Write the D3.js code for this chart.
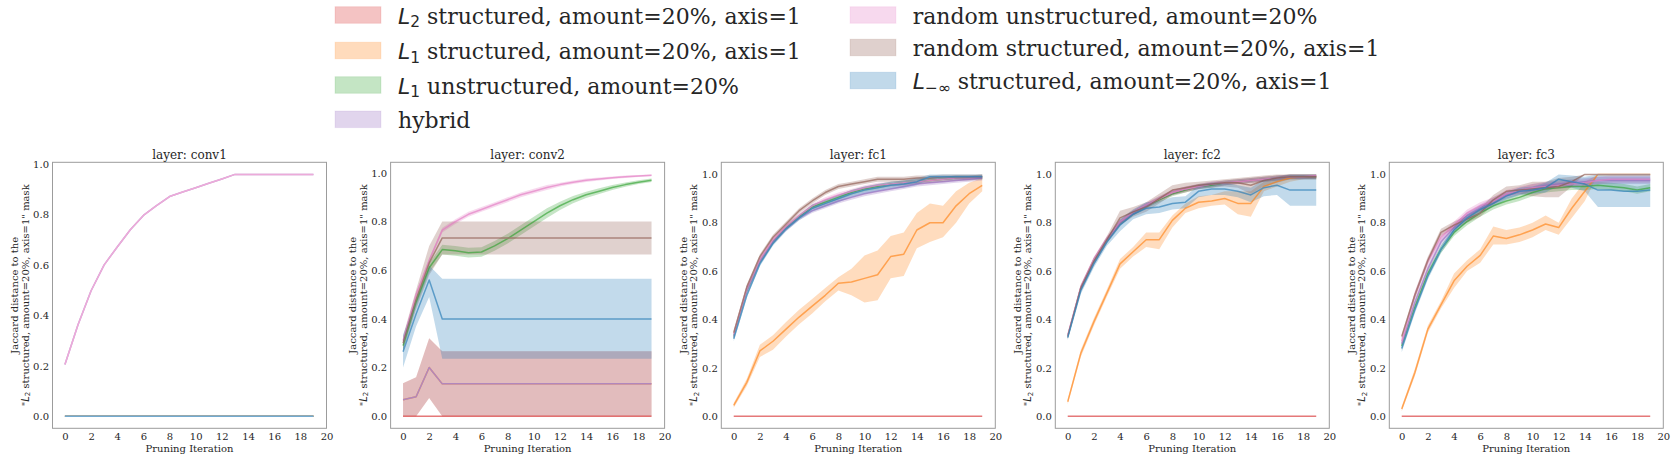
<!DOCTYPE html>
<html><head><meta charset="utf-8">
<script src="https://cdn.jsdelivr.net/npm/d3@7"></script>
<style>body{margin:0;background:#fff;} svg{display:block} text{white-space:pre}</style>
</head><body><svg id="c" width="1678" height="468"></svg>
<script>
// ---------------- DATA ----------------
const iterations = [0,1,2,3,4,5,6,7,8,9,10,11,12,13,14,15,16,17,18,19];
const seriesLabels = [
  "L_2 structured, amount=20%, axis=1",
  "L_1 structured, amount=20%, axis=1",
  "L_1 unstructured, amount=20%",
  "hybrid",
  "random unstructured, amount=20%",
  "random structured, amount=20%, axis=1",
  "L_−∞ structured, amount=20%, axis=1"
];
const seriesColors = ["#d62728","#ff7f0e","#2ca02c","#9467bd","#e377c2","#8c564b","#1f77b4"];
const layerNames = ["conv1","conv2","fc1","fc2","fc3"];
const xTicks = [0,2,4,6,8,10,12,14,16,18,20];
const yTicks = [0,0.2,0.4,0.6,0.8,1.0];
const xLabel = "Pruning Iteration";
const yLabelLines = ["Jaccard distance to the", "\"L_2 structured, amount=20%, axis=1\" mask"];

const Z = [0,0,0,0,0,0,0,0,0,0,0,0,0,0,0,0,0,0,0,0];

// conv1 (series order: L2s, L1s, L1u, hybrid, rand-u, rand-s, Linf-s)
const conv1Mean = [
  Z, Z, Z,
  [0.205,0.363,0.498,0.601,0.672,0.740,0.797,0.836,0.872,0.890,0.907,0.925,0.942,0.960,0.960,0.960,0.960,0.960,0.960,0.960],
  [0.205,0.363,0.498,0.601,0.672,0.740,0.797,0.836,0.872,0.890,0.907,0.925,0.942,0.960,0.960,0.960,0.960,0.960,0.960,0.960],
  Z, Z
];
const conv1Lo = [null,null,null,null,null,null,null];
const conv1Hi = [null,null,null,null,null,null,null];

// conv2
const conv2Mean = [
  Z,
  [0.068,0.08,0.2,0.133,0.133,0.133,0.133,0.133,0.133,0.133,0.133,0.133,0.133,0.133,0.133,0.133,0.133,0.133,0.133,0.133],
  [0.29,0.47,0.61,0.685,0.68,0.672,0.675,0.70,0.73,0.765,0.80,0.835,0.865,0.89,0.91,0.925,0.94,0.952,0.962,0.97],
  [0.068,0.08,0.2,0.133,0.133,0.133,0.133,0.133,0.133,0.133,0.133,0.133,0.133,0.133,0.133,0.133,0.133,0.133,0.133,0.133],
  [0.31,0.50,0.64,0.765,0.80,0.83,0.85,0.87,0.89,0.91,0.925,0.94,0.952,0.962,0.97,0.975,0.98,0.984,0.987,0.99],
  [0.30,0.48,0.63,0.733,0.733,0.733,0.733,0.733,0.733,0.733,0.733,0.733,0.733,0.733,0.733,0.733,0.733,0.733,0.733,0.733],
  [0.265,0.42,0.56,0.40,0.40,0.40,0.40,0.40,0.40,0.40,0.40,0.40,0.40,0.40,0.40,0.40,0.40,0.40,0.40,0.40]
];
const conv2Lo = [
  null,
  [0,0,0.075,0,0,0,0,0,0,0,0,0,0,0,0,0,0,0,0,0],
  [0.27,0.45,0.59,0.665,0.66,0.652,0.655,0.68,0.71,0.745,0.78,0.815,0.848,0.875,0.897,0.913,0.93,0.943,0.954,0.963],
  [0,0,0.075,0,0,0,0,0,0,0,0,0,0,0,0,0,0,0,0,0],
  [0.30,0.49,0.63,0.755,0.79,0.82,0.84,0.86,0.88,0.90,0.915,0.93,0.944,0.955,0.963,0.969,0.975,0.979,0.983,0.986],
  [0.27,0.44,0.58,0.665,0.665,0.665,0.665,0.665,0.665,0.665,0.665,0.665,0.665,0.665,0.665,0.665,0.665,0.665,0.665,0.665],
  [0.20,0.37,0.49,0.236,0.236,0.236,0.236,0.236,0.236,0.236,0.236,0.236,0.236,0.236,0.236,0.236,0.236,0.236,0.236,0.236]
];
const conv2Hi = [
  null,
  [0.135,0.16,0.32,0.267,0.267,0.267,0.267,0.267,0.267,0.267,0.267,0.267,0.267,0.267,0.267,0.267,0.267,0.267,0.267,0.267],
  [0.31,0.49,0.63,0.705,0.70,0.692,0.695,0.72,0.75,0.785,0.82,0.855,0.882,0.905,0.923,0.937,0.95,0.961,0.97,0.977],
  [0.135,0.16,0.32,0.267,0.267,0.267,0.267,0.267,0.267,0.267,0.267,0.267,0.267,0.267,0.267,0.267,0.267,0.267,0.267,0.267],
  [0.32,0.51,0.65,0.775,0.81,0.84,0.86,0.88,0.90,0.92,0.935,0.95,0.96,0.969,0.977,0.981,0.985,0.989,0.991,0.994],
  [0.33,0.52,0.70,0.80,0.80,0.80,0.80,0.80,0.80,0.80,0.80,0.80,0.80,0.80,0.80,0.80,0.80,0.80,0.80,0.80],
  [0.335,0.48,0.62,0.565,0.565,0.565,0.565,0.565,0.565,0.565,0.565,0.565,0.565,0.565,0.565,0.565,0.565,0.565,0.565,0.565]
];

// fc1
const fc1Mean = [
  Z,
  [0.045,0.14,0.27,0.31,0.36,0.41,0.455,0.50,0.55,0.555,0.57,0.585,0.66,0.67,0.77,0.80,0.80,0.87,0.92,0.955],
  [0.33,0.52,0.64,0.72,0.78,0.825,0.865,0.885,0.905,0.925,0.94,0.95,0.96,0.965,0.97,0.975,0.98,0.985,0.985,0.99],
  [0.33,0.52,0.64,0.72,0.775,0.82,0.85,0.87,0.89,0.905,0.92,0.93,0.94,0.95,0.96,0.965,0.97,0.975,0.98,0.985],
  [0.34,0.53,0.65,0.73,0.785,0.83,0.87,0.895,0.915,0.93,0.945,0.955,0.96,0.965,0.97,0.975,0.98,0.985,0.985,0.99],
  [0.345,0.535,0.66,0.74,0.795,0.85,0.89,0.925,0.95,0.96,0.97,0.98,0.98,0.98,0.985,0.985,0.99,0.99,0.99,0.99],
  [0.32,0.50,0.63,0.715,0.775,0.82,0.86,0.88,0.90,0.92,0.935,0.945,0.955,0.96,0.97,0.99,0.99,0.99,0.99,0.99]
];
const fc1Lo = [
  null,
  [0.035,0.125,0.245,0.275,0.33,0.38,0.425,0.475,0.52,0.50,0.47,0.48,0.57,0.58,0.695,0.72,0.74,0.80,0.88,0.93],
  [0.32,0.51,0.63,0.71,0.77,0.815,0.855,0.875,0.895,0.915,0.93,0.94,0.95,0.955,0.96,0.965,0.97,0.975,0.975,0.98],
  [0.32,0.51,0.63,0.71,0.765,0.81,0.84,0.86,0.88,0.895,0.91,0.92,0.93,0.94,0.95,0.955,0.96,0.965,0.97,0.975],
  [0.33,0.52,0.64,0.72,0.775,0.82,0.86,0.885,0.905,0.92,0.935,0.945,0.95,0.955,0.96,0.965,0.97,0.975,0.975,0.98],
  [0.335,0.525,0.65,0.73,0.785,0.84,0.88,0.915,0.94,0.95,0.96,0.97,0.97,0.97,0.975,0.975,0.98,0.98,0.98,0.98],
  [0.31,0.49,0.62,0.705,0.765,0.81,0.845,0.865,0.885,0.905,0.92,0.93,0.94,0.945,0.955,0.98,0.98,0.98,0.98,0.98]
];
const fc1Hi = [
  null,
  [0.055,0.155,0.295,0.335,0.39,0.44,0.485,0.53,0.575,0.61,0.665,0.685,0.745,0.76,0.84,0.88,0.87,0.93,0.965,0.985],
  [0.34,0.53,0.65,0.73,0.79,0.835,0.875,0.895,0.915,0.935,0.95,0.96,0.97,0.975,0.98,0.985,0.99,0.995,0.995,1.0],
  [0.34,0.53,0.65,0.73,0.785,0.83,0.86,0.88,0.90,0.915,0.93,0.94,0.95,0.96,0.97,0.975,0.98,0.985,0.99,0.995],
  [0.35,0.54,0.66,0.74,0.795,0.84,0.88,0.905,0.925,0.94,0.955,0.965,0.97,0.975,0.98,0.985,0.99,0.995,0.995,1.0],
  [0.355,0.545,0.67,0.75,0.805,0.86,0.90,0.935,0.96,0.97,0.98,0.99,0.99,0.99,0.995,0.995,1.0,1.0,1.0,1.0],
  [0.33,0.51,0.64,0.725,0.785,0.83,0.875,0.895,0.915,0.935,0.95,0.96,0.97,0.975,0.985,1.0,1.0,1.0,1.0,1.0]
];

// fc2
const fc2Mean = [
  Z,
  [0.06,0.26,0.39,0.51,0.63,0.68,0.73,0.73,0.81,0.86,0.885,0.89,0.90,0.88,0.88,0.95,0.97,0.985,0.99,0.99],
  [0.33,0.53,0.645,0.73,0.80,0.84,0.87,0.895,0.92,0.935,0.95,0.955,0.965,0.97,0.975,0.98,0.985,0.99,0.99,0.99],
  [0.33,0.53,0.64,0.73,0.80,0.84,0.87,0.90,0.925,0.94,0.95,0.96,0.965,0.97,0.975,0.98,0.985,0.99,0.99,0.99],
  [0.335,0.535,0.65,0.735,0.805,0.845,0.875,0.90,0.925,0.94,0.95,0.96,0.965,0.97,0.975,0.98,0.985,0.99,0.99,0.995],
  [0.33,0.53,0.64,0.73,0.82,0.845,0.865,0.90,0.935,0.945,0.955,0.96,0.965,0.965,0.955,0.975,0.985,0.99,0.99,0.99],
  [0.325,0.52,0.63,0.72,0.79,0.835,0.86,0.865,0.88,0.885,0.93,0.94,0.94,0.93,0.915,0.945,0.955,0.935,0.935,0.935]
];
const fc2Lo = [
  null,
  [0.05,0.245,0.375,0.495,0.61,0.66,0.70,0.69,0.78,0.84,0.86,0.87,0.875,0.835,0.825,0.93,0.95,0.97,0.98,0.98],
  [0.32,0.52,0.635,0.72,0.79,0.83,0.86,0.885,0.91,0.925,0.94,0.945,0.955,0.96,0.965,0.97,0.975,0.98,0.98,0.98],
  [0.32,0.52,0.63,0.72,0.79,0.83,0.86,0.89,0.915,0.93,0.94,0.95,0.955,0.96,0.965,0.97,0.975,0.98,0.98,0.98],
  [0.325,0.525,0.64,0.725,0.795,0.835,0.865,0.89,0.915,0.93,0.94,0.95,0.955,0.96,0.965,0.97,0.975,0.98,0.98,0.985],
  [0.32,0.515,0.625,0.715,0.79,0.825,0.845,0.88,0.915,0.925,0.94,0.945,0.95,0.945,0.92,0.95,0.965,0.98,0.98,0.98],
  [0.315,0.505,0.615,0.705,0.765,0.815,0.835,0.84,0.855,0.86,0.905,0.915,0.915,0.905,0.885,0.91,0.915,0.87,0.87,0.87]
];
const fc2Hi = [
  null,
  [0.07,0.275,0.405,0.525,0.65,0.70,0.76,0.76,0.83,0.88,0.91,0.915,0.93,0.93,0.93,0.97,0.99,1.0,1.0,1.0],
  [0.34,0.54,0.655,0.74,0.81,0.85,0.88,0.905,0.93,0.945,0.96,0.965,0.975,0.98,0.985,0.99,0.995,1.0,1.0,1.0],
  [0.34,0.54,0.65,0.74,0.81,0.85,0.88,0.91,0.935,0.95,0.96,0.97,0.975,0.98,0.985,0.99,0.995,1.0,1.0,1.0],
  [0.345,0.545,0.66,0.745,0.815,0.855,0.885,0.91,0.935,0.95,0.96,0.97,0.975,0.98,0.985,0.99,0.995,1.0,1.0,1.0],
  [0.34,0.545,0.655,0.745,0.85,0.865,0.885,0.92,0.955,0.965,0.97,0.975,0.98,0.985,0.99,0.995,1.0,1.0,1.0,1.0],
  [0.335,0.535,0.645,0.735,0.815,0.855,0.885,0.89,0.905,0.91,0.955,0.965,0.965,0.955,0.945,0.98,0.99,1.0,1.0,1.0]
];

// fc3
const fc3Mean = [
  Z,
  [0.03,0.18,0.36,0.46,0.56,0.62,0.665,0.745,0.735,0.75,0.77,0.795,0.78,0.86,0.93,1.0,1.0,1.0,1.0,1.0],
  [0.29,0.45,0.59,0.69,0.76,0.805,0.84,0.87,0.89,0.905,0.925,0.94,0.945,0.95,0.95,0.955,0.95,0.945,0.935,0.945],
  [0.30,0.47,0.61,0.72,0.78,0.83,0.86,0.89,0.915,0.93,0.945,0.955,0.96,0.965,0.97,0.975,0.975,0.975,0.975,0.975],
  [0.31,0.50,0.64,0.74,0.79,0.84,0.87,0.89,0.92,0.935,0.945,0.95,0.955,0.96,0.965,0.975,0.98,0.98,0.98,0.98],
  [0.33,0.50,0.645,0.76,0.79,0.815,0.84,0.895,0.93,0.935,0.94,0.945,0.95,0.97,1.0,1.0,1.0,1.0,1.0,1.0],
  [0.28,0.44,0.58,0.69,0.77,0.82,0.855,0.88,0.91,0.93,0.935,0.945,0.98,0.97,0.96,0.935,0.935,0.93,0.93,0.935]
];
const fc3Lo = [
  null,
  [0.02,0.165,0.345,0.445,0.53,0.60,0.635,0.71,0.71,0.72,0.74,0.77,0.75,0.82,0.89,1.0,1.0,1.0,1.0,1.0],
  [0.275,0.435,0.575,0.675,0.745,0.79,0.825,0.855,0.875,0.89,0.91,0.925,0.93,0.935,0.935,0.94,0.935,0.93,0.92,0.93],
  [0.285,0.455,0.595,0.705,0.765,0.815,0.845,0.875,0.90,0.915,0.93,0.94,0.945,0.95,0.955,0.96,0.96,0.96,0.96,0.96],
  [0.295,0.485,0.625,0.725,0.775,0.825,0.855,0.875,0.905,0.92,0.93,0.935,0.94,0.945,0.95,0.96,0.965,0.965,0.965,0.965],
  [0.32,0.485,0.63,0.745,0.775,0.80,0.825,0.875,0.91,0.92,0.91,0.905,0.905,0.95,1.0,1.0,1.0,1.0,1.0,1.0],
  [0.265,0.425,0.565,0.675,0.755,0.805,0.84,0.865,0.895,0.915,0.92,0.925,0.955,0.945,0.93,0.865,0.865,0.865,0.865,0.865]
];
const fc3Hi = [
  null,
  [0.04,0.195,0.375,0.475,0.59,0.645,0.69,0.785,0.77,0.78,0.80,0.83,0.80,0.90,0.97,1.0,1.0,1.0,1.0,1.0],
  [0.305,0.465,0.605,0.705,0.775,0.82,0.855,0.885,0.905,0.92,0.94,0.955,0.96,0.965,0.965,0.97,0.965,0.96,0.95,0.96],
  [0.315,0.485,0.625,0.735,0.795,0.845,0.875,0.905,0.93,0.945,0.96,0.97,0.975,0.98,0.985,0.99,0.99,0.99,0.99,0.99],
  [0.325,0.515,0.655,0.755,0.805,0.855,0.885,0.905,0.935,0.95,0.96,0.965,0.97,0.975,0.98,0.99,0.995,0.995,0.995,0.995],
  [0.34,0.515,0.66,0.775,0.805,0.83,0.86,0.915,0.95,0.955,0.97,0.97,0.985,0.99,1.0,1.0,1.0,1.0,1.0,1.0],
  [0.295,0.455,0.595,0.705,0.785,0.835,0.87,0.895,0.925,0.945,0.95,0.965,1.0,0.995,0.99,1.0,1.0,1.0,1.0,1.0]
];

const layerMeans = [conv1Mean, conv2Mean, fc1Mean, fc2Mean, fc3Mean];
const layerLo = [conv1Lo, conv2Lo, fc1Lo, fc2Lo, fc3Lo];
const layerHi = [conv1Hi, conv2Hi, fc1Hi, fc2Hi, fc3Hi];

// ---------------- LAYOUT / STYLE ----------------
const SERIF = "'DejaVu Serif', serif";
const MATH = "'DejaVu Sans', sans-serif";
const TXT = "#262626";
const panelLefts = [52.5, 390.6, 721.3, 1055.3, 1389.3];
const panelW = 274;
const axTop = 162.3, axBottom = 428.3;
const xDomain = [-0.95, 20];

const svg = d3.select("#c");

function richText(sel, str, fs) {
  const parts = str.split(/(L_\S+?)(?=\s|"|$)/);
  let pending = 0;
  parts.forEach(p => {
    if (!p) return;
    const m = p.match(/^L_(\S+)$/);
    if (m) {
      const a = sel.append("tspan").attr("font-family", MATH).attr("font-style", "italic").text("L");
      if (pending) { a.attr("dy", pending); pending = 0; }
      sel.append("tspan").attr("font-family", MATH).attr("font-size", fs * 0.7)
        .attr("dy", fs * 0.17).text(m[1]);
      pending = -fs * 0.17;
    } else {
      const t = sel.append("tspan").text(p);
      if (pending) { t.attr("dy", pending); pending = 0; }
    }
  });
}

layerNames.forEach((name, li) => {
  const L = panelLefts[li];
  const means = layerMeans[li], los = layerLo[li], his = layerHi[li];
  const allVals = [];
  means.forEach((m, si) => {
    allVals.push(...m);
    if (los[si]) allVals.push(...los[si], ...his[si]);
  });
  const mn = d3.min(allVals), mx = d3.max(allVals), pad = (mx - mn) * 0.05;

  const x = d3.scaleLinear().domain(xDomain).range([L, L + panelW]);
  const y = d3.scaleLinear().domain([mn - pad, mx + pad]).range([axBottom, axTop]);

  const g = svg.append("g");
  const line = d3.line().x((d, i) => x(iterations[i])).y(d => y(d));
  const area = d3.area().x((d, i) => x(iterations[i])).y0(d => y(d[0])).y1(d => y(d[1]));

  const bandG = g.append("g");
  const lineG = g.append("g").attr("opacity", 0.62);
  means.forEach((m, si) => {
    if (los[si]) {
      const band = los[si].map((v, i) => [v, his[si][i]]);
      bandG.append("path").attr("d", area(band)).attr("fill", seriesColors[si])
        .attr("fill-opacity", 0.27).attr("stroke", "none");
    }
    lineG.append("path").attr("d", line(m)).attr("fill", "none")
      .attr("stroke", seriesColors[si]).attr("stroke-width", 1.5)
      .attr("stroke-linejoin", "round");
  });

  // frame
  g.append("rect").attr("x", L).attr("y", axTop).attr("width", panelW)
    .attr("height", axBottom - axTop).attr("fill", "none")
    .attr("stroke", "#9c9c9c").attr("stroke-width", 1);

  // axes
  const xa = g.append("g").attr("transform", `translate(0,${axBottom})`)
    .call(d3.axisBottom(x).tickValues(xTicks).tickSize(0).tickPadding(4.6).tickFormat(d3.format("d")));
  const ya = g.append("g").attr("transform", `translate(${L},0)`)
    .call(d3.axisLeft(y).tickValues(yTicks).tickSize(0).tickPadding(3.5).tickFormat(d3.format(".1f")));
  [xa, ya].forEach(a => {
    a.select(".domain").remove();
    a.selectAll("text").attr("font-family", SERIF).attr("font-size", 10).attr("fill", TXT);
  });

  // title
  g.append("text").attr("x", L + panelW / 2).attr("y", 159.3).attr("text-anchor", "middle")
    .attr("font-family", SERIF).attr("font-size", 12).attr("fill", TXT).text("layer: " + name);
  // x label
  g.append("text").attr("x", L + panelW / 2).attr("y", 451.5).attr("text-anchor", "middle")
    .attr("font-family", SERIF).attr("font-size", 10).attr("fill", TXT).text(xLabel);
  // y label (two lines)
  const cy = (axTop + axBottom) / 2;
  const yOff = [-34.5, -24];
  yLabelLines.forEach((ln, k) => {
    const t = g.append("text").attr("transform", `translate(${L + yOff[k]},${cy}) rotate(-90)`)
      .attr("text-anchor", "middle").attr("font-family", SERIF).attr("font-size", 10).attr("fill", TXT);
    richText(t, ln, 10);
  });
});

// ---------------- LEGEND ----------------
const legendCols = [[0, 1, 2, 3], [4, 5, 6]];
const legendPatchX = [335, 850];
const legendTextX = [398, 912.7];
const legendRowY = [[15, 50.5, 85, 119.3], [15, 47.5, 80.5]];
const lg = svg.append("g");
legendCols.forEach((col, ci) => {
  col.forEach((si, ri) => {
    const cy = legendRowY[ci][ri];
    lg.append("rect").attr("x", legendPatchX[ci]).attr("y", cy - 8.3).attr("width", 46).attr("height", 16.6)
      .attr("fill", seriesColors[si]).attr("fill-opacity", 0.28)
      .attr("stroke", seriesColors[si]).attr("stroke-opacity", 0.12).attr("stroke-width", 1);
    const t = lg.append("text").attr("x", legendTextX[ci]).attr("y", cy + 8.5)
      .attr("font-family", SERIF).attr("font-size", 22).attr("fill", TXT);
    richText(t, seriesLabels[si], 22);
  });
});
</script>
</body></html>
